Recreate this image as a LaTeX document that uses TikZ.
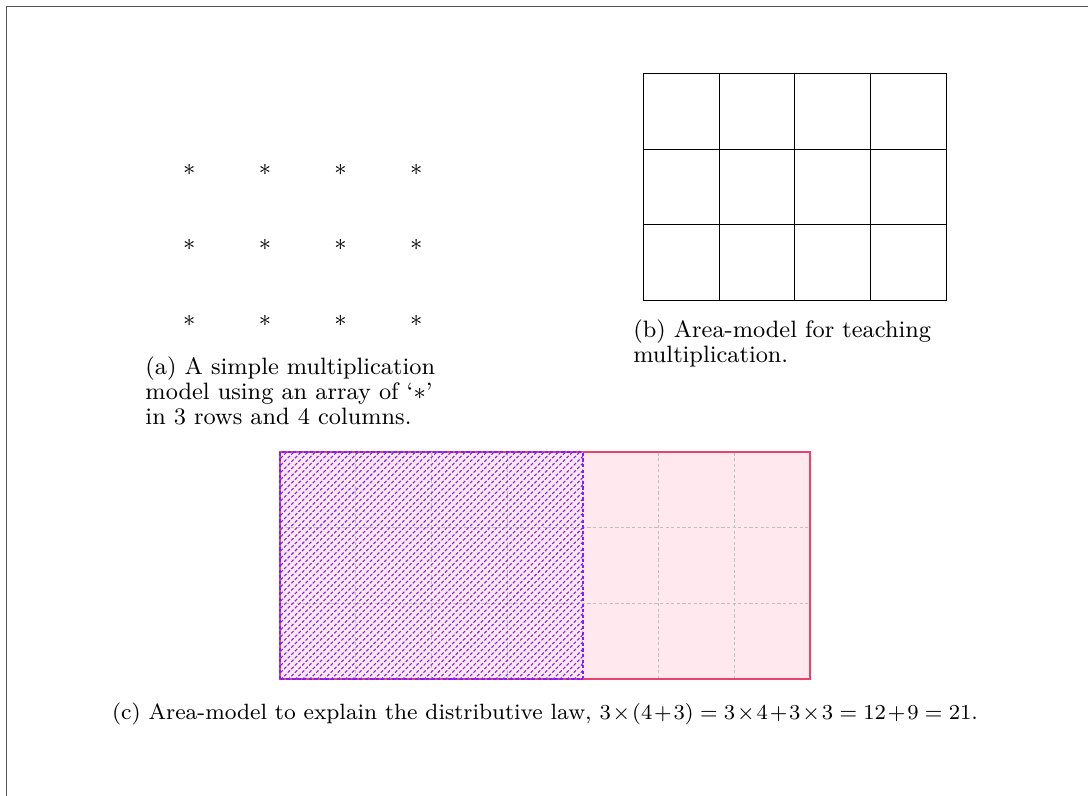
\documentclass[tikz,border=0pt]{standalone}
\usepackage{tikz}
\usetikzlibrary{patterns.meta,positioning}
\definecolor{amPink}{HTML}{FFE8EE}
\definecolor{amRose}{HTML}{E8436A}
\definecolor{amViolet}{HTML}{7F1FFF}
\definecolor{amFrame}{HTML}{555555}
\tikzset{
  arraystar/.style={inner sep=0pt, font=\small},
  subcap/.style={font=\fontsize{8.9}{9.4}\selectfont, align=left, inner sep=0pt, anchor=north west},
  gridline/.style={draw=black, line width=0.45pt},
  helpline/.style={draw=black!25, dash pattern=on 1.2pt off 0.9pt, line width=0.4pt},
  whole/.style={fill=amPink, draw=amRose, line width=0.6pt},
  hatched/.style={pattern={Lines[angle=45, distance=1.9pt, line width=0.4pt]},
    pattern color=amViolet, draw=amViolet, dash pattern=on 1.2pt off 0.9pt, line width=0.5pt}
}
\begin{document}
\begin{tikzpicture}
  \useasboundingbox (0,0) rectangle (14.373,-10.515);
  % page frame (only top and left edges visible)
  \draw[amFrame, line width=0.7pt] (0.086,-10.6) -- (0.086,-0.086) -- (14.5,-0.086);

  % (a) array of stars
  \foreach \i in {0,...,3}{
    \foreach \j in {0,...,2}{
      \node[arraystar] (s-\i-\j) at (2.5+\i, -2.24-\j) {$*$};
    }
  }
  \node[subcap] (capA) at (1.915,-4.71) {(a) A simple multiplication\\model using an array of `$*$'\\in 3 rows and 4 columns.};

  % (b) area model
  \foreach \i in {0,...,4}
    \draw[gridline] (8.5+\i,-3.97) -- (8.5+\i,-0.97);
  \foreach \j in {0,...,3}
    \draw[gridline] (8.5,-0.97-\j) -- (12.5,-0.97-\j);
  \node[subcap] (capB) at (8.36,-4.22) {(b) Area-model for teaching\\multiplication.};

  % (c) distributive law
  \path[whole] (3.7,-8.97) rectangle (10.7,-5.97);
  \foreach \i in {1,...,6}
    \draw[helpline] (3.7+\i,-8.97) -- (3.7+\i,-5.97);
  \foreach \j in {1,2}
    \draw[helpline] (3.7,-5.97-\j) -- (10.7,-5.97-\j);
  \path[hatched] (3.7,-8.97) rectangle (7.7,-5.97);
  \draw[amRose, line width=0.6pt] (7.7,-8.97) -| (10.7,-5.97) -- (7.7,-5.97);
  \node[subcap, anchor=north, font=\fontsize{8.3}{9.4}\selectfont] (capC) at (7.2,-9.28) {(c) Area-model to explain the distributive law, $\medmuskip=1.5mu 3\times(4+3) = 3\times4+3\times3 = 12+9 = 21$.};
\end{tikzpicture}
\end{document}
